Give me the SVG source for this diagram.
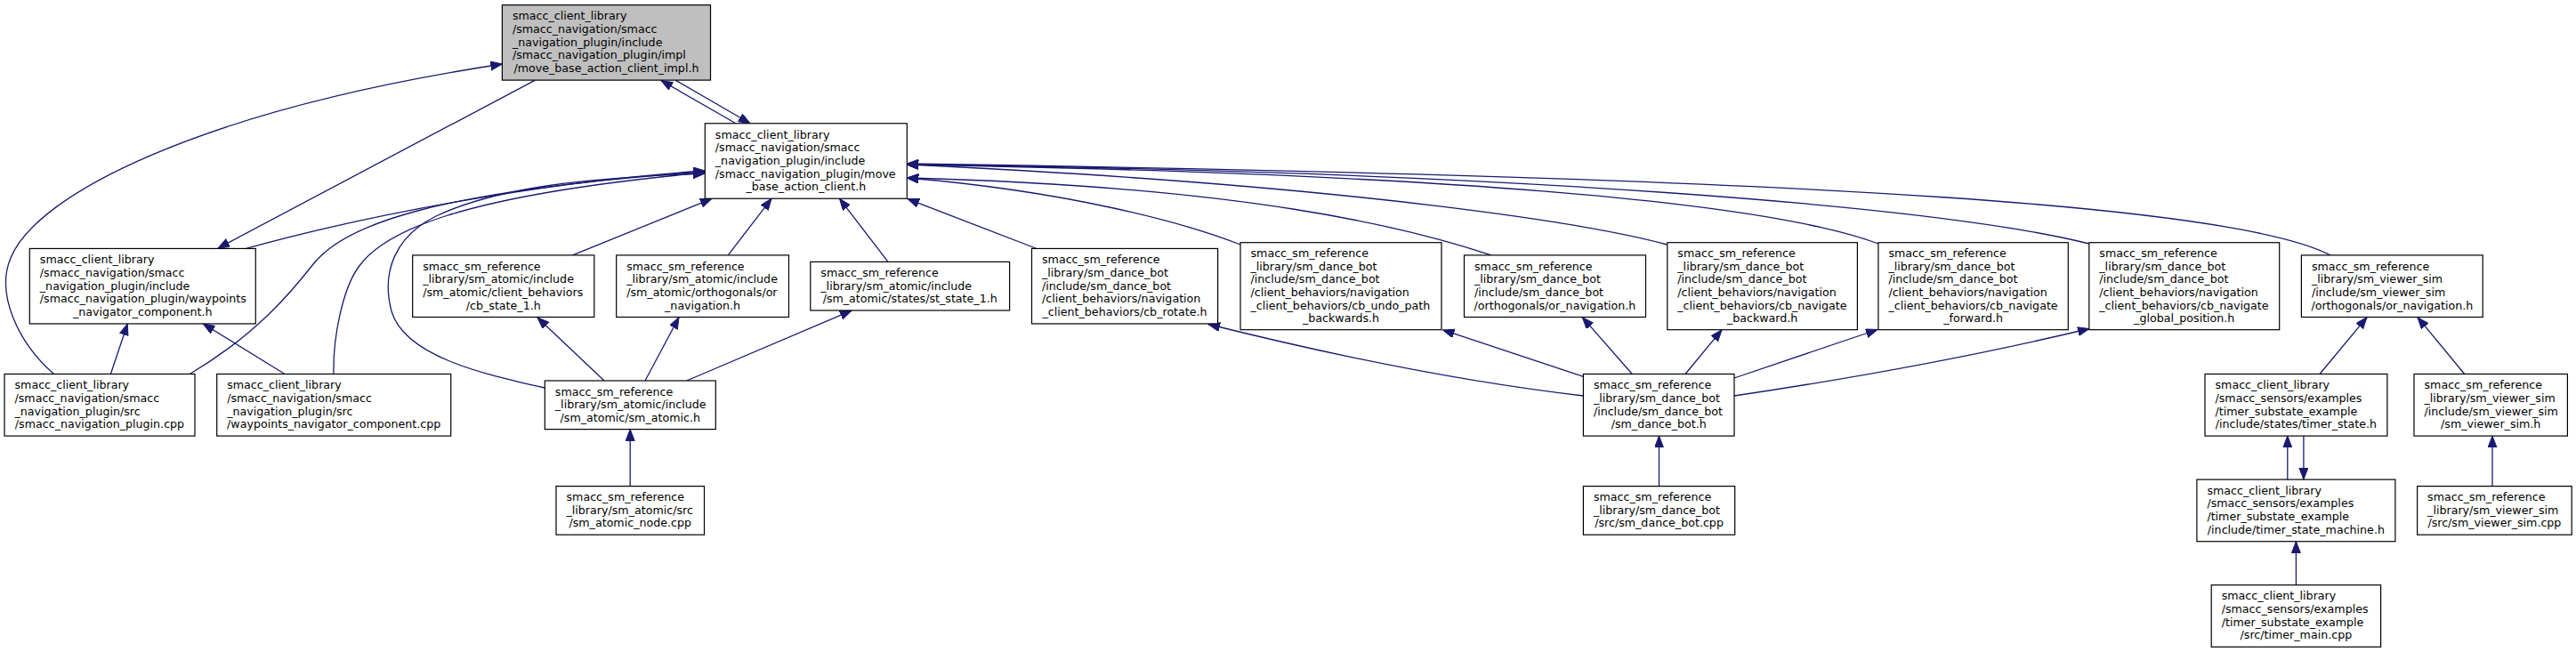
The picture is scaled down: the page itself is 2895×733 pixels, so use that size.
<svg xmlns="http://www.w3.org/2000/svg" width="2895" height="733" viewBox="0 0 2895 733">
<style>
.node rect{fill:#fff;stroke:#000;stroke-width:1.2}
.root rect{fill:#bfbfbf}
text{font-family:"DejaVu Sans",sans-serif;font-size:12.65px;fill:#000}
.c{text-anchor:middle}
.edges path{fill:none;stroke:#191970;stroke-width:1.3;marker-end:url(#ah)}
</style>
<defs>
<marker id="ah" markerUnits="userSpaceOnUse" markerWidth="14" markerHeight="11" refX="13" refY="5" orient="auto">
<path d="M0,0 L13,5 L0,10 z" fill="#191970" stroke="#191970" stroke-width="1"/>
</marker>
</defs>
<rect x="0" y="0" width="2895" height="733" fill="#fff"/>
<g class="edges" id="connectors">
<path d="M827,138.8 L743,90.5"/>
<path d="M759,90.1 L843,138.7"/>
<path d="M60.6,420.5 C20,385 -5,330 12,290 C40,220 220,125 564.4,72"/>
<path d="M601.5,90.1 L245,279"/>
<path d="M276.7,279.4 C400,245 600,205 792.3,192"/>
<path d="M213.3,420.5 C290,375 330,325 352,297 C385,255 480,215 792.3,193"/>
<path d="M375,420.5 C374,380 385,325 403,300 C430,262 510,220 792.3,194"/>
<path d="M612.3,436 C540,420 455,400 440,350 C428,305 445,265 490,243 C560,210 660,200 792.3,195"/>
<path d="M643.5,286.9 L800,223.3"/>
<path d="M818.3,286.9 L867,223.3"/>
<path d="M998,294.4 L943.5,223.3"/>
<path d="M1165,279.5 L1020,223.6"/>
<path d="M1394,275 C1330,250 1200,215 1019.3,200"/>
<path d="M1676,286.9 C1580,255 1400,210 1019.3,200"/>
<path d="M1873.8,275 C1800,255 1550,210 1019.3,185"/>
<path d="M2111,274 C1980,225 1600,195 1019.3,185"/>
<path d="M2347.8,274 C2180,232 1700,193 1019.3,185"/>
<path d="M2619,286.9 C2520,235 2100,200 1019.3,184"/>
<path d="M1779.4,445 C1650,430 1500,400 1358,364.5"/>
<path d="M1779.4,423.3 L1621.5,370.9"/>
<path d="M1834.3,420.5 L1778.3,356.7"/>
<path d="M1894,420.5 L1935,370.9"/>
<path d="M1949,425 L2110,370.5"/>
<path d="M1949,445 C2050,430 2200,405 2348,369.5"/>
<path d="M708.2,546.6 L708.2,482.6"/>
<path d="M679,428 L604,357"/>
<path d="M725,428 L763,356.7"/>
<path d="M771.7,428 L957,349.2"/>
<path d="M124.4,420.5 L143.3,364"/>
<path d="M320,420.5 L228.3,364"/>
<path d="M1864.5,546.6 L1864.5,490.1"/>
<path d="M2607,420.5 L2660,356.7"/>
<path d="M2769.7,420.5 L2717,356.7"/>
<path d="M2570.8,539.1 L2570.8,490.1"/>
<path d="M2588.9,490.1 L2588.9,539.1"/>
<path d="M2580.4,657.7 L2580.4,608.7"/>
<path d="M2801,546.6 L2801,490.1"/>
</g>
<g id="n0" class="node root">
<rect x="564.4" y="5.6" width="234.1" height="84.5"/>
<text x="575.9" y="22.37">smacc_client_library</text>
<text x="575.9" y="37.04">/smacc_navigation/smacc</text>
<text x="575.9" y="51.71">_navigation_plugin/include</text>
<text x="575.9" y="66.38">/smacc_navigation_plugin/impl</text>
<text class="c" x="681.45" y="81.05">/move_base_action_client_impl.h</text>
</g>
<g id="n1" class="node">
<rect x="792.3" y="138.75" width="227" height="84.5"/>
<text x="803.8" y="155.52">smacc_client_library</text>
<text x="803.8" y="170.19">/smacc_navigation/smacc</text>
<text x="803.8" y="184.86">_navigation_plugin/include</text>
<text x="803.8" y="199.53">/smacc_navigation_plugin/move</text>
<text class="c" x="905.8" y="214.2">_base_action_client.h</text>
</g>
<g id="n2" class="node">
<rect x="33.3" y="279.45" width="254" height="84.5"/>
<text x="44.8" y="296.22">smacc_client_library</text>
<text x="44.8" y="310.89">/smacc_navigation/smacc</text>
<text x="44.8" y="325.56">_navigation_plugin/include</text>
<text x="44.8" y="340.23">/smacc_navigation_plugin/waypoints</text>
<text class="c" x="160.3" y="354.9">_navigator_component.h</text>
</g>
<g id="n3" class="node">
<rect x="5" y="420.5" width="214" height="69.6"/>
<text x="16.5" y="437.16">smacc_client_library</text>
<text x="16.5" y="451.83">/smacc_navigation/smacc</text>
<text x="16.5" y="466.5">_navigation_plugin/src</text>
<text class="c" x="112" y="481.17">/smacc_navigation_plugin.cpp</text>
</g>
<g id="n4" class="node">
<rect x="243.7" y="420.5" width="263" height="69.6"/>
<text x="255.2" y="437.16">smacc_client_library</text>
<text x="255.2" y="451.83">/smacc_navigation/smacc</text>
<text x="255.2" y="466.5">_navigation_plugin/src</text>
<text class="c" x="375.2" y="481.17">/waypoints_navigator_component.cpp</text>
</g>
<g id="n5" class="node">
<rect x="463.7" y="286.9" width="204.1" height="69.6"/>
<text x="475.2" y="303.56">smacc_sm_reference</text>
<text x="475.2" y="318.23">_library/sm_atomic/include</text>
<text x="475.2" y="332.9">/sm_atomic/client_behaviors</text>
<text class="c" x="565.75" y="347.57">/cb_state_1.h</text>
</g>
<g id="n6" class="node">
<rect x="692.7" y="286.9" width="193.8" height="69.6"/>
<text x="704.2" y="303.56">smacc_sm_reference</text>
<text x="704.2" y="318.23">_library/sm_atomic/include</text>
<text x="704.2" y="332.9">/sm_atomic/orthogonals/or</text>
<text class="c" x="789.6" y="347.57">_navigation.h</text>
</g>
<g id="n7" class="node">
<rect x="910.8" y="294.4" width="223.8" height="54.6"/>
<text x="922.3" y="310.9">smacc_sm_reference</text>
<text x="922.3" y="325.57">_library/sm_atomic/include</text>
<text class="c" x="1022.7" y="340.24">/sm_atomic/states/st_state_1.h</text>
</g>
<g id="n8" class="node">
<rect x="612.3" y="428" width="192" height="54.6"/>
<text x="623.8" y="444.5">smacc_sm_reference</text>
<text x="623.8" y="459.17">_library/sm_atomic/include</text>
<text class="c" x="708.3" y="473.84">/sm_atomic/sm_atomic.h</text>
</g>
<g id="n9" class="node">
<rect x="625" y="546.6" width="166.5" height="54.6"/>
<text x="636.5" y="563.1">smacc_sm_reference</text>
<text x="636.5" y="577.77">_library/sm_atomic/src</text>
<text class="c" x="708.25" y="592.44">/sm_atomic_node.cpp</text>
</g>
<g id="n10" class="node">
<rect x="1159.5" y="279.45" width="209.1" height="84.5"/>
<text x="1171" y="296.22">smacc_sm_reference</text>
<text x="1171" y="310.89">_library/sm_dance_bot</text>
<text x="1171" y="325.56">/include/sm_dance_bot</text>
<text x="1171" y="340.23">/client_behaviors/navigation</text>
<text class="c" x="1264.05" y="354.9">_client_behaviors/cb_rotate.h</text>
</g>
<g id="n11" class="node">
<rect x="1394" y="272.7" width="226" height="98"/>
<text x="1405.5" y="288.89">smacc_sm_reference</text>
<text x="1405.5" y="303.56">_library/sm_dance_bot</text>
<text x="1405.5" y="318.23">/include/sm_dance_bot</text>
<text x="1405.5" y="332.9">/client_behaviors/navigation</text>
<text x="1405.5" y="347.57">_client_behaviors/cb_undo_path</text>
<text class="c" x="1507" y="362.24">_backwards.h</text>
</g>
<g id="n12" class="node">
<rect x="1645.5" y="286.9" width="204" height="69.6"/>
<text x="1657" y="303.56">smacc_sm_reference</text>
<text x="1657" y="318.23">_library/sm_dance_bot</text>
<text x="1657" y="332.9">/include/sm_dance_bot</text>
<text class="c" x="1747.5" y="347.57">/orthogonals/or_navigation.h</text>
</g>
<g id="n13" class="node">
<rect x="1873.8" y="272.7" width="213.6" height="98"/>
<text x="1885.3" y="288.89">smacc_sm_reference</text>
<text x="1885.3" y="303.56">_library/sm_dance_bot</text>
<text x="1885.3" y="318.23">/include/sm_dance_bot</text>
<text x="1885.3" y="332.9">/client_behaviors/navigation</text>
<text x="1885.3" y="347.57">_client_behaviors/cb_navigate</text>
<text class="c" x="1980.6" y="362.24">_backward.h</text>
</g>
<g id="n14" class="node">
<rect x="2110.9" y="272.7" width="213.4" height="98"/>
<text x="2122.4" y="288.89">smacc_sm_reference</text>
<text x="2122.4" y="303.56">_library/sm_dance_bot</text>
<text x="2122.4" y="318.23">/include/sm_dance_bot</text>
<text x="2122.4" y="332.9">/client_behaviors/navigation</text>
<text x="2122.4" y="347.57">_client_behaviors/cb_navigate</text>
<text class="c" x="2217.6" y="362.24">_forward.h</text>
</g>
<g id="n15" class="node">
<rect x="2347.8" y="272.7" width="213.9" height="98"/>
<text x="2359.3" y="288.89">smacc_sm_reference</text>
<text x="2359.3" y="303.56">_library/sm_dance_bot</text>
<text x="2359.3" y="318.23">/include/sm_dance_bot</text>
<text x="2359.3" y="332.9">/client_behaviors/navigation</text>
<text x="2359.3" y="347.57">_client_behaviors/cb_navigate</text>
<text class="c" x="2454.75" y="362.24">_global_position.h</text>
</g>
<g id="n16" class="node">
<rect x="2586.4" y="286.9" width="203.8" height="69.6"/>
<text x="2597.9" y="303.56">smacc_sm_reference</text>
<text x="2597.9" y="318.23">_library/sm_viewer_sim</text>
<text x="2597.9" y="332.9">/include/sm_viewer_sim</text>
<text class="c" x="2688.3" y="347.57">/orthogonals/or_navigation.h</text>
</g>
<g id="n17" class="node">
<rect x="1779.4" y="420.5" width="169.6" height="69.6"/>
<text x="1790.9" y="437.16">smacc_sm_reference</text>
<text x="1790.9" y="451.83">_library/sm_dance_bot</text>
<text x="1790.9" y="466.5">/include/sm_dance_bot</text>
<text class="c" x="1864.2" y="481.17">/sm_dance_bot.h</text>
</g>
<g id="n18" class="node">
<rect x="1779.4" y="546.6" width="170.3" height="54.6"/>
<text x="1790.9" y="563.1">smacc_sm_reference</text>
<text x="1790.9" y="577.77">_library/sm_dance_bot</text>
<text class="c" x="1864.55" y="592.44">/src/sm_dance_bot.cpp</text>
</g>
<g id="n19" class="node">
<rect x="2478" y="420.5" width="204.9" height="69.6"/>
<text x="2489.5" y="437.16">smacc_client_library</text>
<text x="2489.5" y="451.83">/smacc_sensors/examples</text>
<text x="2489.5" y="466.5">/timer_substate_example</text>
<text class="c" x="2580.45" y="481.17">/include/states/timer_state.h</text>
</g>
<g id="n20" class="node">
<rect x="2713" y="420.5" width="172.4" height="69.6"/>
<text x="2724.5" y="437.16">smacc_sm_reference</text>
<text x="2724.5" y="451.83">_library/sm_viewer_sim</text>
<text x="2724.5" y="466.5">/include/sm_viewer_sim</text>
<text class="c" x="2799.2" y="481.17">/sm_viewer_sim.h</text>
</g>
<g id="n21" class="node">
<rect x="2468.9" y="539.1" width="223" height="69.6"/>
<text x="2480.4" y="555.76">smacc_client_library</text>
<text x="2480.4" y="570.43">/smacc_sensors/examples</text>
<text x="2480.4" y="585.1">/timer_substate_example</text>
<text class="c" x="2580.4" y="599.77">/include/timer_state_machine.h</text>
</g>
<g id="n22" class="node">
<rect x="2716.6" y="546.6" width="173.6" height="54.6"/>
<text x="2728.1" y="563.1">smacc_sm_reference</text>
<text x="2728.1" y="577.77">_library/sm_viewer_sim</text>
<text class="c" x="2803.4" y="592.44">/src/sm_viewer_sim.cpp</text>
</g>
<g id="n23" class="node">
<rect x="2485.2" y="657.7" width="190.4" height="69.6"/>
<text x="2496.7" y="674.36">smacc_client_library</text>
<text x="2496.7" y="689.03">/smacc_sensors/examples</text>
<text x="2496.7" y="703.7">/timer_substate_example</text>
<text class="c" x="2580.4" y="718.37">/src/timer_main.cpp</text>
</g>
</svg>
